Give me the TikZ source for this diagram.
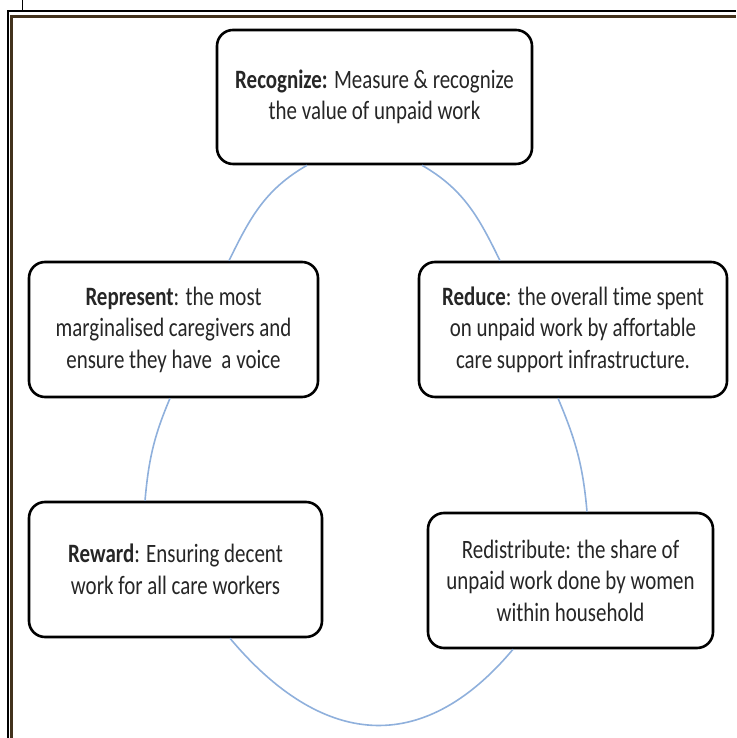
\documentclass[tikz,border=0pt]{standalone}
\usepackage{fontspec}
\setmainfont{Carlito}[FakeStretch=0.79,RawFeature={-liga;-clig;-calt;-dlig}]

\definecolor{linkblue}{RGB}{143,176,220}
\definecolor{framebrown}{RGB}{66,50,28}
\tikzset{
	stage/.style={draw=black, line width=2.6pt, rounded corners=16pt, fill=white, align=center, text=black!85, minimum height=135pt, inner sep=0pt, font=\fontsize{26.5}{31.5}\selectfont},
	link/.style={draw=linkblue, line width=1.6pt}
}

\begin{document}
\begin{tikzpicture}[x=1pt,y=1pt]
	\useasboundingbox (0,0) rectangle (736,738);
	% frame
	\draw[line width=1.2pt] (22.5,738) -- (22.5,727) (8,0) -- (8,727) -- (736,727);
	\draw[framebrown, line width=3pt] (11.5,0) -- (11.5,721.5) -- (736,721.5);
	% stages
	\node[stage, minimum width=315pt, minimum height=134pt] (recognize) at (374.5,641) {\textbf{Recognize:} Measure \& recognize\\the value of unpaid work};
	\node[stage, minimum width=289pt] (represent) at (173.5,408.5) {\textbf{Represent}: the most\\marginalised caregivers and\\ensure they have\ \ a voice};
	\node[stage, minimum width=308pt] (reduce) at (573,408.5) {\textbf{Reduce}: the overall time spent\\on unpaid work by affortable\\care support infrastructure.};
	\node[stage, minimum width=293pt] (reward) at (175.5,168.5) {\textbf{Reward}: Ensuring decent\\work for all care workers};
	\node[stage, minimum width=285pt] (redistribute) at (570.5,157.5) {Redistribute: the share of\\unpaid work done by women\\within household};
	% cycle
	\foreach \sa/\sx/\ea/\ex/\ao/\ai/\lo in {
		recognize.south/-67.5/represent.north/55.5/210/64/1,
		recognize.south/47.5/reduce.north/-73/-30/116/1,
		represent.south/-3.5/reward.north/-30.5/247/85/1,
		reduce.south/-15/redistribute.north/16.5/293/95/1,
		reward.south/54.5/redistribute.south/-57.5/-50/230/1.28}
		\draw[link] ([xshift=\sx pt]\sa) to[out=\ao,in=\ai,looseness=\lo] ([xshift=\ex pt]\ea);
\end{tikzpicture}
\end{document}
